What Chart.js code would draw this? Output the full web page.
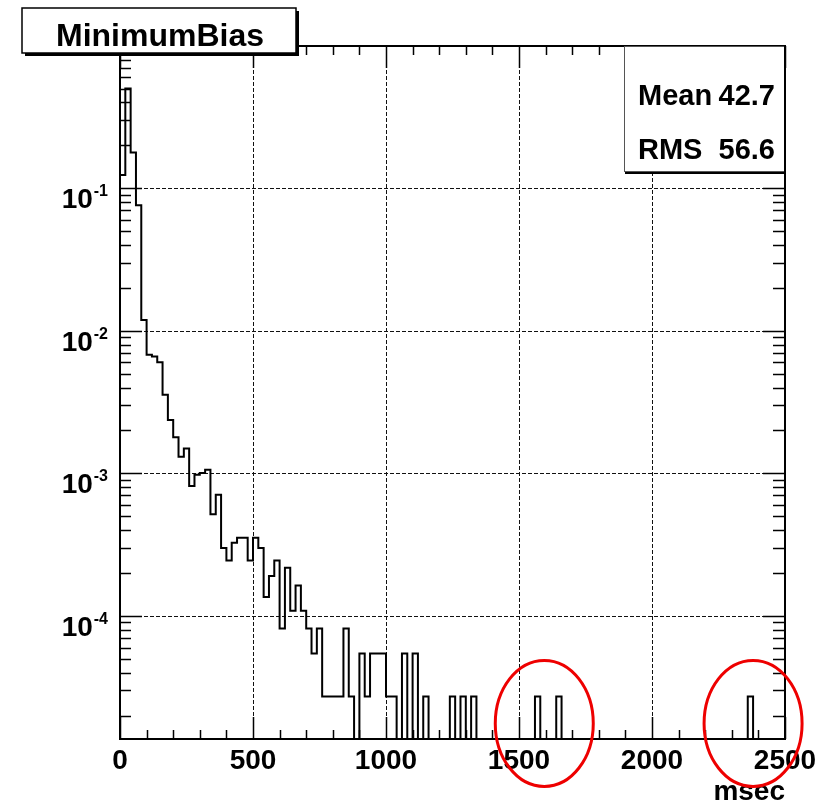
<!DOCTYPE html>
<html>
<head>
<meta charset="utf-8">
<script src="https://cdn.jsdelivr.net/npm/chart.js@4/dist/chart.umd.min.js"></script>
<style>
  html, body { margin: 0; padding: 0; background: #fff; }
  #wrap { width: 826px; height: 805px; position: relative; }
</style>
</head>
<body>
<div id="wrap"><canvas id="c" width="826" height="805"></canvas></div>
<script>
// Event processing time, MinimumBias stream, 20 ms bins from 0 to 2500 ms
const binWidth = 20;
const xRange = [0, 2500];
const totalEntries = 36765;            // histogram is normalised to unit area

// entries per bin, 0-540 ms
const headCounts = [4559, 18383, 6544, 2794, 437, 250, 243, 221, 131, 87,
                    66, 48, 55, 30, 36, 37, 39, 19, 26, 11,
                    9, 12, 13, 13, 9, 13, 11];
// entries per bin, 540-2500 ms
const tailCounts = [5, 7, 9, 3, 8, 4, 6, 4, 3, 2,
                    3, 1, 1, 1, 1, 3, 1, 0, 2, 1,
                    2, 2, 2, 1, 1, 0, 2, 0, 2, 0,
                    1, 0, 0, 0, 0, 1, 0, 1, 0, 1,
                    0, 0, 0, 0, 0, 0, 0, 0, 0, 0,
                    0, 1, 0, 0, 0, 1, 0, 0, 0, 0,
                    0, 0, 0, 0, 0, 0, 0, 0, 0, 0,
                    0, 0, 0, 0, 0, 0, 0, 0, 0, 0,
                    0, 0, 0, 0, 0, 0, 0, 0, 0, 0,
                    0, 1, 0, 0, 0, 0, 0, 0];

const xTickLabels = ['0', '500', '1000', '1500', '2000', '2500'];
const xTickValues = [0, 500, 1000, 1500, 2000, 2500];
const yDecades = [-1, -2, -3, -4];
const yRange = [1.37e-5, 0.995];
const statNames = ['Mean', 'RMS'];
const statValues = ['42.7', '56.6'];
const histTitle = 'MinimumBias';
const xAxisTitle = 'msec';
// highlighted regions (msec, fraction)
const circledSpots = [{ x: 1595, y: 1.76e-5 }, { x: 2380, y: 1.76e-5 }];

// outline of the histogram: two points per bin
const counts = headCounts.concat(tailCounts);
const outline = [{ x: xRange[0], y: yRange[0] }];
counts.forEach((n, i) => {
  const v = n > 0 ? n / totalEntries : yRange[0];
  outline.push({ x: i * binWidth, y: v });
  outline.push({ x: (i + 1) * binWidth, y: v });
});

const FONT = '"Liberation Sans", Arial, Helvetica, sans-serif';

const rootStyle = {
  id: 'rootStyle',
  beforeDatasetsDraw(chart) {
    const { ctx, chartArea: a, scales: { x, y } } = chart;
    ctx.save();
    ctx.strokeStyle = '#111';
    ctx.lineWidth = 1;
    ctx.setLineDash([4, 2]);
    xTickValues.forEach(v => {
      if (v <= xRange[0] || v >= xRange[1]) return;
      const px = Math.round(x.getPixelForValue(v)) + 0.5;
      ctx.beginPath(); ctx.moveTo(px, a.top); ctx.lineTo(px, a.bottom); ctx.stroke();
    });
    yDecades.forEach(k => {
      const py = Math.round(y.getPixelForValue(Math.pow(10, k))) + 0.5;
      ctx.beginPath(); ctx.moveTo(a.left, py); ctx.lineTo(a.right, py); ctx.stroke();
    });
    ctx.restore();
  },
  afterDatasetsDraw(chart) {
    const { ctx, chartArea: a, scales: { x, y } } = chart;
    ctx.save();
    ctx.strokeStyle = '#000';
    ctx.fillStyle = '#000';
    ctx.setLineDash([]);

    // y ticks (log), both sides
    ctx.lineWidth = 1.5;
    for (let k = -5; k <= 0; k++) {
      for (let m = 1; m <= 9; m++) {
        const v = m * Math.pow(10, k);
        if (v < yRange[0] || v > yRange[1]) continue;
        const py = Math.round(y.getPixelForValue(v)) + 0.5;
        const major = m === 1;
        const lenL = major ? 22 : 11;
        const lenR = major ? 22 : 12;
        ctx.beginPath();
        ctx.moveTo(a.left, py); ctx.lineTo(a.left + lenL, py);
        ctx.moveTo(a.right, py); ctx.lineTo(a.right - lenR, py);
        ctx.stroke();
      }
    }
    // x ticks, bottom and top
    for (let v = xRange[0]; v <= xRange[1]; v += 100) {
      const px = Math.round(x.getPixelForValue(v)) + 0.5;
      const major = v % 500 === 0;
      const len = major ? 22 : 9;
      ctx.beginPath();
      ctx.moveTo(px, a.bottom); ctx.lineTo(px, a.bottom - len);
      ctx.moveTo(px, a.top); ctx.lineTo(px, a.top + len);
      ctx.stroke();
    }

    // frame
    ctx.lineWidth = 2;
    ctx.strokeRect(a.left, a.top, a.right - a.left, a.bottom - a.top);

    // x tick labels
    ctx.font = 'bold 28px ' + FONT;
    ctx.textAlign = 'center';
    ctx.textBaseline = 'alphabetic';
    xTickValues.forEach((v, i) => {
      ctx.fillText(xTickLabels[i], x.getPixelForValue(v), a.bottom + 30);
    });
    // x axis title
    ctx.textAlign = 'right';
    ctx.fillText(xAxisTitle, a.right, a.bottom + 61);

    // y tick labels 10^k
    yDecades.forEach(k => {
      const py = y.getPixelForValue(Math.pow(10, k));
      ctx.font = 'bold 16px ' + FONT;
      ctx.textAlign = 'left';
      const sup = '-' + Math.abs(k);
      const supW = ctx.measureText(sup).width;
      const supX = a.left - 12 - supW;
      ctx.fillText(sup, supX, py + 8);
      ctx.font = 'bold 28px ' + FONT;
      ctx.textAlign = 'right';
      ctx.fillText('10', supX - 1, py + 20);
    });

    // title box
    const tb = { l: 22, t: 8, r: 296, b: 53 };
    ctx.fillStyle = '#000';
    ctx.fillRect(tb.l + 3, tb.t + 3, tb.r - tb.l, tb.b - tb.t);
    ctx.fillStyle = '#fff';
    ctx.fillRect(tb.l, tb.t, tb.r - tb.l, tb.b - tb.t);
    ctx.lineWidth = 1.5;
    ctx.strokeRect(tb.l, tb.t, tb.r - tb.l, tb.b - tb.t);
    ctx.fillStyle = '#000';
    ctx.font = 'bold 32px ' + FONT;
    ctx.textAlign = 'center';
    ctx.fillText(histTitle, (tb.l + tb.r) / 2 + 1, 46);

    // statistics box
    const sb = { l: 624, t: a.top, r: a.right, b: 172 };
    ctx.fillStyle = '#000';
    ctx.fillRect(sb.l + 1, sb.t + 2, sb.r - sb.l, sb.b - sb.t);
    ctx.fillStyle = '#fff';
    ctx.fillRect(sb.l, sb.t, sb.r - sb.l, sb.b - sb.t);
    ctx.lineWidth = 1;
    ctx.strokeStyle = '#555';
    ctx.strokeRect(sb.l + 0.5, sb.t + 0.5, sb.r - sb.l - 1, sb.b - sb.t - 1);
    ctx.strokeStyle = '#000';
    ctx.lineWidth = 2;
    ctx.beginPath(); ctx.moveTo(sb.r, sb.t); ctx.lineTo(sb.r, sb.b); ctx.stroke();
    ctx.fillStyle = '#000';
    ctx.font = 'bold 29px ' + FONT;
    statNames.forEach((name, i) => {
      const base = 105 + i * 54;
      ctx.textAlign = 'left';
      ctx.fillText(name, 638, base);
      ctx.textAlign = 'right';
      ctx.fillText(statValues[i], 775, base);
    });

    // highlight ellipses
    ctx.strokeStyle = 'rgb(238,0,0)';
    ctx.lineWidth = 3;
    circledSpots.forEach(s => {
      ctx.beginPath();
      ctx.ellipse(x.getPixelForValue(s.x), y.getPixelForValue(s.y), 49, 63, 0, 0, Math.PI * 2);
      ctx.stroke();
    });
    ctx.restore();
  }
};

new Chart(document.getElementById('c'), {
  type: 'line',
  data: {
    datasets: [{
      data: outline,
      borderColor: '#000',
      borderWidth: 2,
      pointRadius: 0,
      tension: 0,
      fill: false,
      clip: 0
    }]
  },
  options: {
    responsive: false,
    animation: false,
    devicePixelRatio: 1,
    layout: { padding: { left: 120, right: 41, top: 46, bottom: 66 } },
    plugins: { legend: { display: false }, tooltip: { enabled: false } },
    scales: {
      x: { type: 'linear', min: xRange[0], max: xRange[1], display: false },
      y: { type: 'logarithmic', min: yRange[0], max: yRange[1], display: false }
    }
  },
  plugins: [rootStyle]
});
</script>
</body>
</html>
